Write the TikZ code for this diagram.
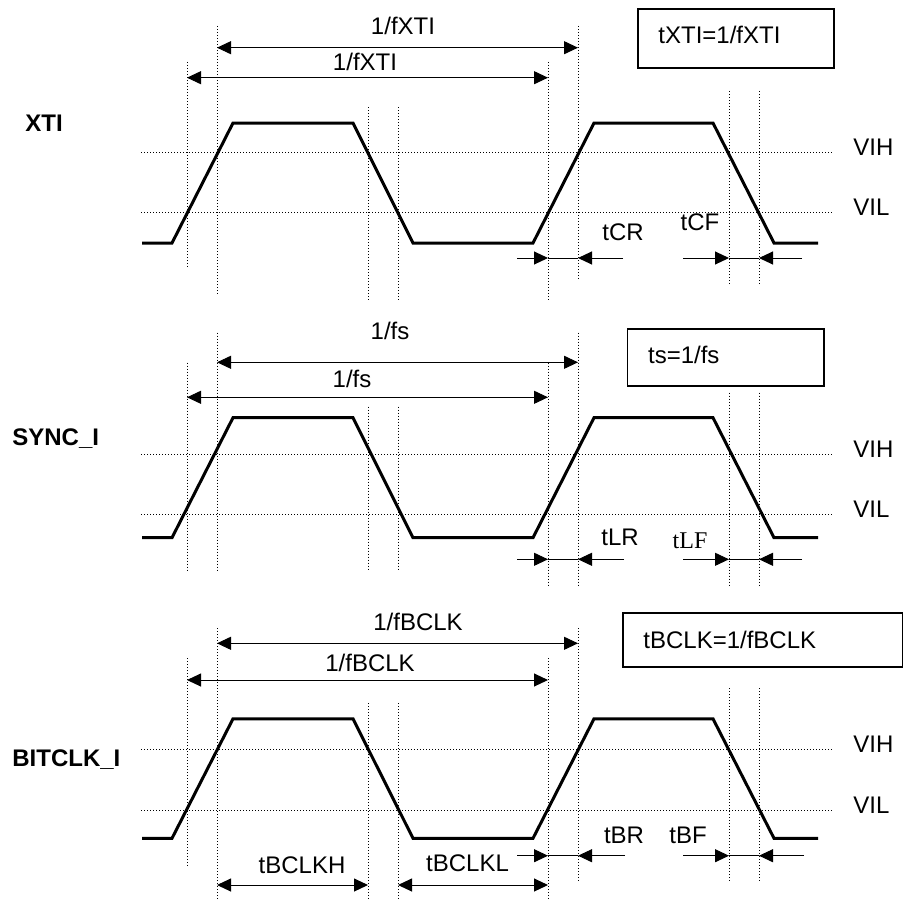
\documentclass[tikz,border=0pt]{standalone}
\usepackage{fontspec}
\setmainfont{Liberation Sans}
\newfontfamily\timesface{Liberation Serif}
\usetikzlibrary{arrows.meta}

\tikzstyle{wave}=[black, line width=1.5pt, line join=miter]
\tikzstyle{guide}=[black, line width=0.5pt, dash pattern=on 0.5pt off 1pt]
\tikzstyle{dim}=[black, line width=0.5pt, {Triangle[length=7pt,width=6.5pt]}-{Triangle[length=7pt,width=6.5pt]}]
\tikzstyle{tip}=[black, line width=0.5pt, -{Triangle[length=7pt,width=6.5pt]}]
\tikzstyle{thin line}=[black, line width=0.5pt]
\tikzstyle{formula}=[black, line width=0.7pt]

\begin{document}
\begin{tikzpicture}[x=0.5pt,y=0.5pt]
		\tikzstyle{every node}+=[inner sep=0pt, font=\fontsize{12}{14}\selectfont]
		\useasboundingbox (0,0) rectangle (903,-899);
		% XTI
		\draw [wave] (142,-243) -- (172,-243) -- (233,-123) -- (353,-123) -- (413,-243) -- (533,-243) -- (594,-123) -- (713,-123) -- (774,-243) -- (818,-243);
		\draw [guide] (141,-152.7) -- (832,-152.7);
		\draw [guide] (141,-212.7) -- (832,-212.7);
		\draw [guide] (187,-62) -- (187,-269);
		\draw [guide] (217,-26) -- (217,-295);
		\draw [guide] (368,-107) -- (368,-300);
		\draw [guide] (398,-107) -- (398,-300);
		\draw [guide] (548,-62) -- (548,-300);
		\draw [guide] (578,-26) -- (578,-280);
		\draw [guide] (729,-91) -- (729,-285);
		\draw [guide] (759,-91) -- (759,-285);
		\draw (25,-131.7) node [anchor=base west] (xti) {\bfseries XTI};
		\draw (853,-155.7) node [anchor=base west] (vihA) {VIH};
		\draw (853,-215.7) node [anchor=base west] (vilA) {VIL};
		\draw [dim] (217,-47.7) -- (578,-47.7);
		\draw (403,-34.3) node [anchor=base] (fxtiA) {1/fXTI};
		\draw [dim] (187,-77.7) -- (548,-77.7);
		\draw (365,-70.7) node [anchor=base] (fxtiB) {1/fXTI};
		\draw [tip] (517,-258) -- (548,-258);
		\draw [thin line] (548,-258) -- (578,-258);
		\draw [tip] (623,-258) -- (578,-258);
		\draw (623,-240.7) node [anchor=base] (tcr) {tCR};
		\draw [tip] (683,-258) -- (729,-258);
		\draw [thin line] (729,-258) -- (759,-258);
		\draw [tip] (802,-258) -- (759,-258);
		\draw (700,-230) node [anchor=base] (tcf) {tCF};
		\draw [formula] (638,-9) rectangle (834,-68);
		\draw (658,-43.3) node [anchor=base west] (txti) {tXTI=1/fXTI};
		% SYNC_I
		\draw [wave] (142,-537.7) -- (172,-537.7) -- (233,-417.7) -- (353,-417.7) -- (413,-537.7) -- (533,-537.7) -- (594,-417.7) -- (713,-417.7) -- (774,-537.7) -- (818,-537.7);
		\draw [guide] (141,-454.3) -- (832,-454.3);
		\draw [guide] (141,-514.3) -- (832,-514.3);
		\draw [guide] (187,-362.7) -- (187,-571);
		\draw [guide] (217,-332.7) -- (217,-571);
		\draw [guide] (368,-406.7) -- (368,-571);
		\draw [guide] (398,-406.7) -- (398,-571);
		\draw [guide] (548,-362.7) -- (548,-586);
		\draw [guide] (578,-332.7) -- (578,-586);
		\draw [guide] (729,-392.7) -- (729,-586);
		\draw [guide] (759,-392.7) -- (759,-586);
		\draw (12,-445) node [anchor=base west] (sync) {\bfseries SYNC\_I};
		\draw (853,-457.3) node [anchor=base west] (vihB) {VIH};
		\draw (853,-517.3) node [anchor=base west] (vilB) {VIL};
		\draw [dim] (217,-362.3) -- (578,-362.3);
		\draw (390,-339) node [anchor=base] (fsA) {1/fs};
		\draw [dim] (187,-397.3) -- (548,-397.3);
		\draw (352,-387) node [anchor=base] (fsB) {1/fs};
		\draw [tip] (517,-559.3) -- (548,-559.3);
		\draw [thin line] (548,-559.3) -- (578,-559.3);
		\draw [tip] (624,-559.3) -- (578,-559.3);
		\draw (620,-545) node [anchor=base] (tlr) {tLR};
		\draw [tip] (683,-559.3) -- (729,-559.3);
		\draw [thin line] (729,-559.3) -- (759,-559.3);
		\draw [tip] (802,-559.3) -- (759,-559.3);
		\draw (690,-548) node [anchor=base] (tlf) {\timesface tLF};
		\draw [formula] (627.7,-329) rectangle (824,-386);
		\draw (647.7,-363.3) node [anchor=base west] (ts) {ts=1/fs};
		% BITCLK_I
		\draw [wave] (142,-838.3) -- (172,-838.3) -- (233,-718.8) -- (353,-718.8) -- (413,-838.3) -- (533,-838.3) -- (594,-718.8) -- (713,-718.8) -- (774,-838.3) -- (818,-838.3);
		\draw [guide] (141,-749.3) -- (832,-749.3);
		\draw [guide] (141,-810) -- (832,-810);
		\draw [guide] (187,-658) -- (187,-867);
		\draw [guide] (217,-628) -- (217,-899);
		\draw [guide] (368,-703) -- (368,-899);
		\draw [guide] (398,-703) -- (398,-899);
		\draw [guide] (548,-658) -- (548,-899);
		\draw [guide] (578,-628) -- (578,-882);
		\draw [guide] (729,-688) -- (729,-882);
		\draw [guide] (759,-688) -- (759,-882);
		\draw (12,-766.7) node [anchor=base west] (bitclk) {\bfseries BITCLK\_I};
		\draw (853,-752.3) node [anchor=base west] (vihC) {VIH};
		\draw (853,-813) node [anchor=base west] (vilC) {VIL};
		\draw [dim] (217,-643.3) -- (578,-643.3);
		\draw (418,-630.7) node [anchor=base] (fbclkA) {1/fBCLK};
		\draw [dim] (187,-680) -- (548,-680);
		\draw (370,-671.7) node [anchor=base] (fbclkB) {1/fBCLK};
		\draw [tip] (517,-855.7) -- (548,-855.7);
		\draw [thin line] (548,-855.7) -- (578,-855.7);
		\draw [tip] (625,-855.7) -- (578,-855.7);
		\draw (624,-843) node [anchor=base] (tbr) {tBR};
		\draw [tip] (683,-855.7) -- (729,-855.7);
		\draw [thin line] (729,-855.7) -- (759,-855.7);
		\draw [tip] (804,-855.7) -- (759,-855.7);
		\draw (688,-843) node [anchor=base] (tbf) {tBF};
		\draw [dim] (217,-885) -- (368,-885);
		\draw (302,-873) node [anchor=base] (tbclkh) {tBCLKH};
		\draw [dim] (398,-885) -- (548,-885);
		\draw (467.5,-871.7) node [anchor=base] (tbclkl) {tBCLKL};
		\draw [formula] (623,-613) rectangle (902.6,-667);
		\draw (643,-648.3) node [anchor=base west] (tbclk) {tBCLK=1/fBCLK};
\end{tikzpicture}
\end{document}
